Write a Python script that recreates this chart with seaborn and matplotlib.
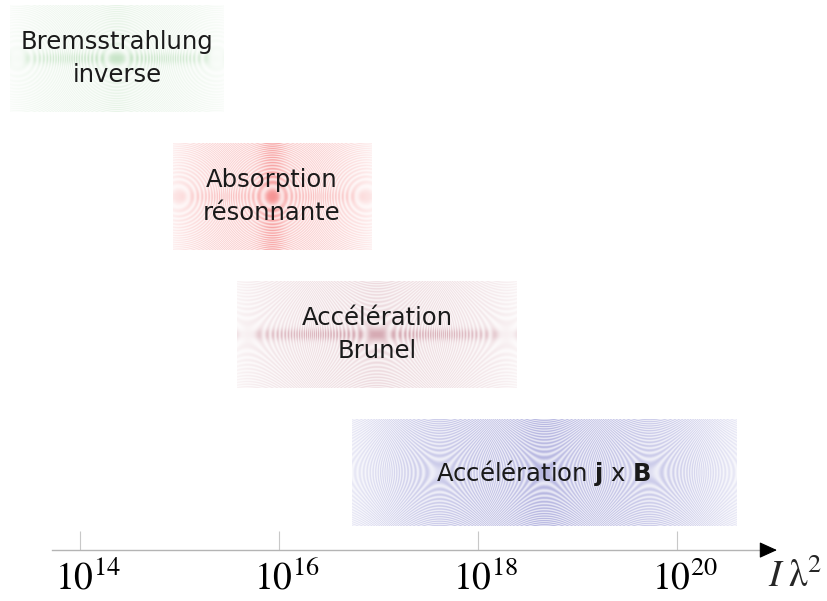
import numpy as np
import matplotlib
matplotlib.use("Agg")
import matplotlib.pyplot as plt
import matplotlib.transforms as mtransforms
import seaborn as sns

# Absorption processes vs laser parameter I*lambda^2 (log10 ranges)
processes = [
    "Bremsstrahlung\ninverse",
    "Absorption\nrésonnante",
    "Accélération\nBrunel",
    "Accélération $\\mathbf{j}$ x $\\mathbf{B}$",
]
log_start = [13.30, 14.93, 15.58, 16.73]
log_end = [15.45, 16.93, 18.39, 20.59]
rows = [3, 2, 1, 0]
fill_rgb = [(0.45, 0.74, 0.45), (0.95, 0.42, 0.42), (0.74, 0.46, 0.52), (0.42, 0.42, 0.76)]
tick_exponents = [14, 16, 18, 20]
axis_label = r"$I\;\mathrm{\lambda}^2$"

sns.set_theme(style="white")
plt.rcParams["font.family"] = ["DejaVu Sans"]


def moire_fill(rgb, nx, ny, base, vband, hband, sign, scale):
    # soft gradient with an aliased zone-plate texture, like the banded fills
    u = np.linspace(-1, 1, nx)[None, :]
    v = np.linspace(-1, 1, ny)[:, None]
    x = u * nx / 2
    y = v * ny / 2
    rings = 0.5 + 0.5 * np.cos(np.pi * (x ** 2 + sign * y ** 2) / scale)
    alpha = base + vband * np.exp(-(u / 0.12) ** 2) + hband * np.exp(-(v / 0.10) ** 2)
    alpha = alpha * (0.35 + 0.65 * rings) * (1 - 0.6 * np.abs(u) ** 3)
    img = np.zeros((ny, nx, 4))
    img[..., :3] = rgb
    img[..., 3] = np.clip(alpha, 0, 1)
    return img


styles = [
    dict(base=0.12, vband=0.04, hband=0.22, sign=1, scale=100.0),
    dict(base=0.30, vband=0.30, hband=0.12, sign=1, scale=95.0),
    dict(base=0.22, vband=0.04, hband=0.35, sign=-1, scale=130.0),
    dict(base=0.38, vband=0.10, hband=0.0, sign=-1, scale=105.0),
]

fig = plt.figure(figsize=(8.28, 6.01), dpi=100)
ax = fig.add_axes([0, 0, 1, 1])

height = 0.77
for name, lo, hi, r, rgb, st in zip(processes, log_start, log_end, rows, fill_rgb, styles):
    nx = int((hi - lo) * 99.5)
    img = moire_fill(rgb, nx, 106, **st)
    ax.imshow(img, extent=(lo, hi, r - height / 2, r + height / 2), origin="lower",
              aspect="auto", interpolation="nearest", zorder=1)
    ax.text((lo + hi) / 2, r, name, ha="center", va="center", fontsize=17.5,
            linespacing=1.5, color="#1a1a1a", zorder=3)

ax.set_xlim(13.196, 21.518)
ax.set_ylim(-0.931, 3.424)

axis_y = -0.562
for side in ["top", "left", "right"]:
    ax.spines[side].set_visible(False)
ax.spines["bottom"].set_position(("data", axis_y))
ax.spines["bottom"].set_bounds(13.72, 20.9)
ax.spines["bottom"].set_color("#b4b4b4")
ax.spines["bottom"].set_linewidth(1.0)

ax.set_yticks([])
ax.set_xticks(tick_exponents, labels=[f"$10^{{{e}}}$" for e in tick_exponents])
ax.tick_params(axis="x", bottom=True, direction="in", length=13.7, width=0.8,
               color="#c8c8c8", pad=8, labelsize=27, labelcolor="black")
offset = mtransforms.ScaledTranslation(8 / 100, 0, fig.dpi_scale_trans)
for lab in ax.get_xticklabels():
    lab.set_math_fontfamily("stix")
    lab.set_transform(lab.get_transform() + offset)

ax.annotate("", xy=(21.005, axis_y), xytext=(20.85, axis_y),
            arrowprops=dict(arrowstyle="-|>,head_length=0.55,head_width=0.25",
                            mutation_scale=20, color="black", lw=0.8,
                            shrinkA=0, shrinkB=0))
ax.text(20.91, -0.83, axis_label, ha="left", va="baseline", fontsize=27,
        math_fontfamily="stix")

ax.grid(False)
fig.savefig("out.png", dpi=100)
